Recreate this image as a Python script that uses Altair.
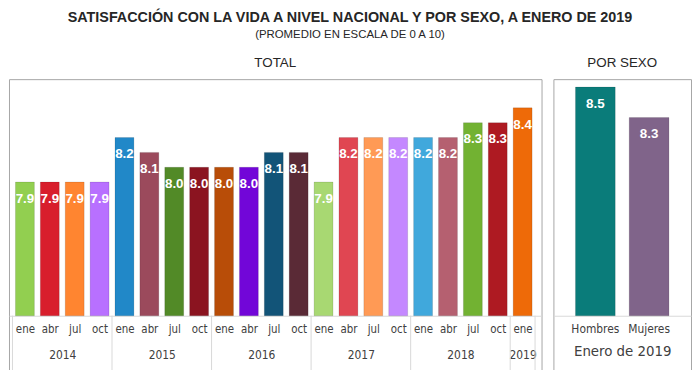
import json
import altair as alt
import pandas as pd

# ---------------- data ----------------
meses = ["ene", "abr", "jul", "oct"] * 5 + ["ene"]
anios = ["2014"] * 4 + ["2015"] * 4 + ["2016"] * 4 + ["2017"] * 4 + ["2018"] * 4 + ["2019"]
valores = [7.9, 7.9, 7.9, 7.9,
           8.2, 8.1, 8.0, 8.0,
           8.0, 8.0, 8.1, 8.1,
           7.9, 8.2, 8.2, 8.2,
           8.2, 8.2, 8.3, 8.3,
           8.4]
colores = ["#92CF50", "#D81E2C", "#FF8530", "#B870FF",
           "#2188C8", "#9B4A5C", "#528A27", "#8B1420",
           "#B84D08", "#7206D8", "#125478", "#5A2A36",
           "#A8D872", "#E04652", "#FF9A55", "#C488FF",
           "#40A8DC", "#B56070", "#72B232", "#AE1A22",
           "#EE6A08"]

sexo = ["Hombres", "Mujeres"]
valores_sexo = [8.5, 8.3]
colores_sexo = ["#0A7C7A", "#80648A"]

titulo = "SATISFACCIÓN CON LA VIDA A NIVEL NACIONAL Y POR SEXO, A ENERO DE 2019"
subtitulo = "(PROMEDIO EN ESCALA DE 0 A 10)"
titulo_total = "TOTAL"
titulo_sexo = "POR SEXO"
titulo_eje_sexo = "Enero de 2019"

# ---------------- derived tables ----------------
n = len(valores)
df = pd.DataFrame({"i": list(range(n)), "mes": meses, "anio": anios,
                   "valor": valores, "color": colores})

grupos = []
for k, a in enumerate(anios):
    if not grupos or grupos[-1][0] != a:
        grupos.append([a, k, k + 1])
    else:
        grupos[-1][2] = k + 1
centros = [(g[1] + g[2]) / 2 for g in grupos]
limites = [g[1] for g in grupos] + [n]
df_lim = pd.DataFrame({"b": limites})

df_sexo = pd.DataFrame({"sexo": sexo, "valor": valores_sexo, "color": colores_sexo})

# ---------------- styling ----------------
FONT = "DejaVu Sans Condensed, Liberation Sans, sans-serif"
FONT_T = "Liberation Sans, sans-serif"
BASE = 7.0
H = 296
yscale = alt.Scale(domain=[6.62, 8.5933], nice=False, zero=False)
yscale_s = alt.Scale(domain=[6.630, 8.552], nice=False, zero=False)
Y_MIN = 6.62
xscale = alt.Scale(domain=[-0.14, 21.26], nice=False, zero=False)
AX_OFF = -57

mes_expr = json.dumps(meses) + "[floor(datum.value)]"
anio_expr = ""
for g in grupos[:-1]:
    anio_expr += f"datum.value < {g[2]} ? '{g[0]}' : "
anio_expr += f"'{grupos[-1][0]}'"

eje_meses = alt.Axis(orient="bottom", values=[k + 0.5 for k in range(n)], labelExpr=mes_expr,
                     ticks=False, domain=True, domainColor="#d9d9d9", grid=False,
                     offset=AX_OFF, labelPadding=8, labelFont=FONT, labelFontSize=11.5,
                     labelColor="#404040", labelOverlap=False, labelFlush=False, title=None)
eje_anios = alt.Axis(orient="bottom", values=centros, labelExpr=anio_expr,
                     ticks=False, domain=False, grid=False, offset=AX_OFF, labelPadding=34,
                     labelFont=FONT, labelFontSize=12, labelColor="#404040",
                     labelOverlap=False, labelFlush=False, title=None)

bars = alt.Chart(df).transform_calculate(
    x0="datum.i + 0.12", x1="datum.i + 0.88"
).mark_bar(stroke="#00000033", strokeWidth=0.6).encode(
    x=alt.X("x0:Q", scale=xscale, axis=eje_meses),
    x2="x1:Q",
    y=alt.Y("valor:Q", scale=yscale, axis=None),
    y2=alt.datum(BASE),
    color=alt.Color("color:N", scale=None),
)
etiquetas = alt.Chart(df).transform_calculate(
    xc="datum.i + 0.5"
).mark_text(color="white", font=FONT_T, fontWeight="bold", fontSize=13.5,
            baseline="middle", dy=17).encode(
    x=alt.X("xc:Q", scale=xscale, axis=None),
    y=alt.Y("valor:Q", scale=yscale, axis=None),
    text=alt.Text("valor:Q", format=".1f"),
)
separadores = alt.Chart(df_lim).mark_rule(color="#d9d9d9", strokeWidth=1).encode(
    x=alt.X("b:Q", scale=xscale, axis=eje_anios),
    y=alt.datum(BASE),
    y2=alt.datum(Y_MIN),
)

total = alt.layer(bars, etiquetas, separadores).resolve_axis(x="independent").properties(
    width=538, height=H,
    title=alt.TitleParams(titulo_total, font=FONT_T, fontSize=13.5, fontWeight="normal",
                          color="#262626", anchor="middle", offset=10),
)

xs = alt.Scale(domain=sexo, paddingInner=0.26, paddingOuter=0.41)
eje_sexo = alt.Axis(orient="bottom", ticks=False, domain=True, domainColor="#d9d9d9",
                    grid=False, offset=AX_OFF, labelPadding=8, labelFont=FONT,
                    labelFontSize=12, labelColor="#404040", labelAngle=0,
                    title=titulo_eje_sexo, titleFont=FONT, titleFontSize=15,
                    titleFontWeight="normal", titleColor="#404040", titlePadding=9)
bars_s = alt.Chart(df_sexo).mark_bar(stroke="#00000033", strokeWidth=0.6).encode(
    x=alt.X("sexo:N", scale=xs, sort=sexo, axis=eje_sexo),
    y=alt.Y("valor:Q", scale=yscale_s, axis=None),
    y2=alt.datum(BASE),
    color=alt.Color("color:N", scale=None),
)
etq_s = alt.Chart(df_sexo).mark_text(color="white", font=FONT_T, fontWeight="bold", fontSize=13.5,
                                     baseline="middle", dy=17).encode(
    x=alt.X("sexo:N", scale=xs, sort=sexo, axis=eje_sexo),
    y=alt.Y("valor:Q", scale=yscale_s, axis=None),
    text=alt.Text("valor:Q", format=".1f"),
)
por_sexo = alt.layer(bars_s, etq_s).properties(
    width=139, height=H,
    title=alt.TitleParams(titulo_sexo, font=FONT_T, fontSize=13.5, fontWeight="normal",
                          color="#262626", anchor="middle", offset=10),
)

chart = alt.hconcat(total, por_sexo, spacing=10).properties(
    title=alt.TitleParams(titulo, subtitle=subtitulo, font=FONT_T, fontSize=14.5,
                          fontWeight="bold", color="#262626", anchor="middle",
                          subtitleFont=FONT_T, subtitleFontSize=11.5, subtitleColor="#262626",
                          subtitlePadding=4, offset=14),
    padding=0, background="white",
).configure_view(stroke="#a6a6a6", strokeWidth=1)

chart.save("out.html", embed_options={"renderer": "svg", "actions": False})
